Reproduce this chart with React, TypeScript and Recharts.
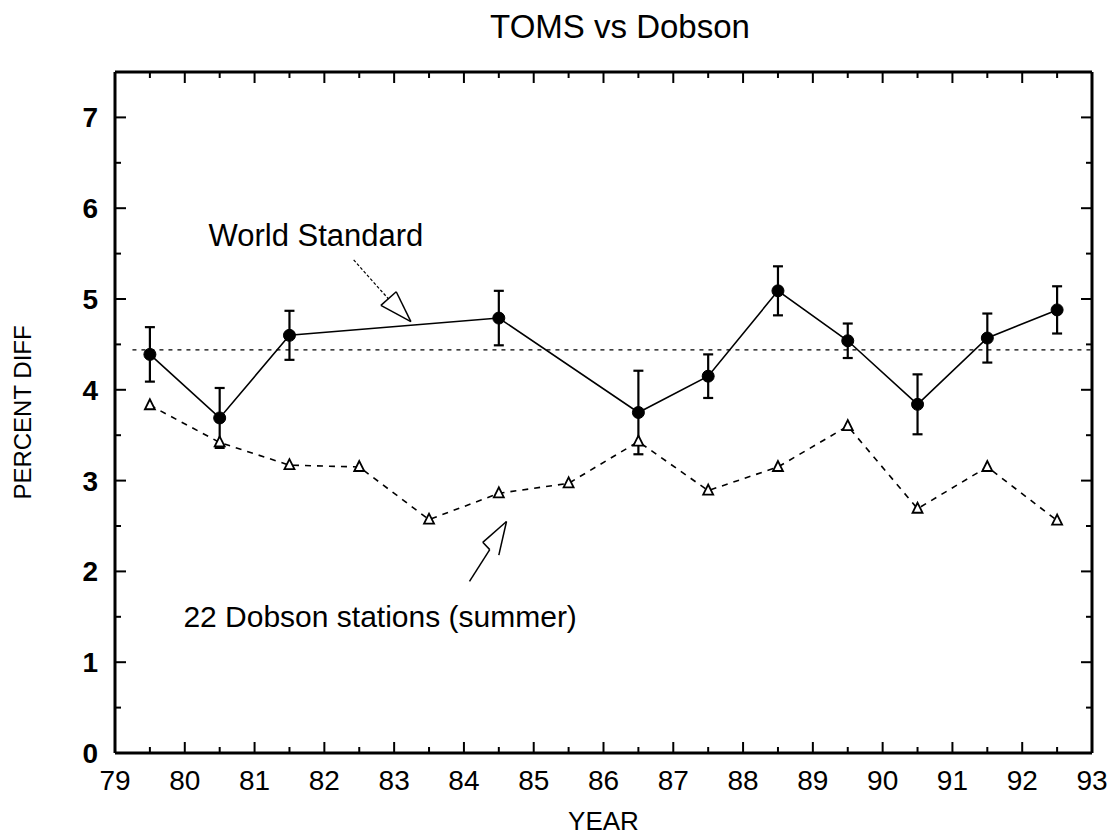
import React from 'react';
import {
  ComposedChart,
  Line,
  XAxis,
  YAxis,
  ErrorBar,
  ReferenceLine,
  ReferenceDot,
  Label,
} from 'recharts';

// ---- data ----
const years = [79.5, 80.5, 81.5, 82.5, 83.5, 84.5, 85.5, 86.5, 87.5, 88.5, 89.5, 90.5, 91.5, 92.5];
const worldStandard = [4.39, 3.69, 4.6, null, null, 4.79, null, 3.75, 4.15, 5.09, 4.54, 3.84, 4.57, 4.88];
const worldStandardErr = [0.3, 0.33, 0.27, null, null, 0.3, null, 0.46, 0.24, 0.27, 0.19, 0.33, 0.27, 0.26];
const dobsonStations = [3.83, 3.42, 3.17, 3.15, 2.57, 2.86, 2.97, 3.43, 2.89, 3.15, 3.6, 2.69, 3.15, 2.56];
const meanLevel = 4.44;

const xTicks = [79, 79.5, 80, 80.5, 81, 81.5, 82, 82.5, 83, 83.5, 84, 84.5, 85, 85.5, 86, 86.5, 87, 87.5, 88, 88.5, 89, 89.5, 90, 90.5, 91, 91.5, 92, 92.5, 93];
const yTicks = [0, 0.5, 1, 1.5, 2, 2.5, 3, 3.5, 4, 4.5, 5, 5.5, 6, 6.5, 7, 7.5];

// annotation paths (data coordinates)
const wsArrowLine = [{ x: 82.42, y: 5.43 }, { x: 82.92, y: 5.0 }];
const wsArrowHead = [{ x: 82.81, y: 4.93 }, { x: 83.24, y: 4.75 }, { x: 83.03, y: 5.08 }, { x: 82.81, y: 4.93 }];
const dobArrow = [
  { x: 84.08, y: 1.89 },
  { x: 84.37, y: 2.24 },
  { x: 84.27, y: 2.32 },
  { x: 84.61, y: 2.55 },
  { x: 84.5, y: 2.18 },
];

const data = years.map((year, i) => ({
  year,
  ws: worldStandard[i],
  wsErr: worldStandardErr[i],
  dob: dobsonStations[i],
}));

const FONT = '"Liberation Sans", Arial, Helvetica, sans-serif';

const isMajor = (v: number) => Math.abs(v - Math.round(v)) < 1e-6;

const BottomTick = (props: any) => {
  const { x, y, payload } = props;
  const v = payload.value;
  const major = isMajor(v);
  return (
    <g>
      <line x1={x} y1={y} x2={x} y2={y - (major ? 11 : 6)} stroke="#000" strokeWidth={2} />
      {major && (
        <text x={x} y={y + 37} textAnchor="middle" fontSize={28} fontFamily={FONT} fill="#000">
          {v}
        </text>
      )}
    </g>
  );
};

const TopTick = (props: any) => {
  const { x, y, payload } = props;
  const major = isMajor(payload.value);
  return <line x1={x} y1={y} x2={x} y2={y + (major ? 11 : 6)} stroke="#000" strokeWidth={2} />;
};

const LeftTick = (props: any) => {
  const { x, y, payload } = props;
  const v = payload.value;
  const major = isMajor(v);
  return (
    <g>
      <line x1={x} y1={y} x2={x + (major ? 11 : 6)} y2={y} stroke="#000" strokeWidth={2} />
      {major && (
        <text x={x - 17} y={y} dy="0.36em" textAnchor="end" fontSize={28} fontWeight="bold" fontFamily={FONT} fill="#000">
          {v}
        </text>
      )}
    </g>
  );
};

const RightTick = (props: any) => {
  const { x, y, payload } = props;
  const major = isMajor(payload.value);
  return <line x1={x} y1={y} x2={x - (major ? 11 : 6)} y2={y} stroke="#000" strokeWidth={2} />;
};

const Triangle = (props: any) => {
  const { cx, cy } = props;
  if (cx == null || cy == null) return null;
  return (
    <path
      d={`M${cx},${cy - 6} L${cx - 5},${cy + 4} L${cx + 5},${cy + 4} Z`}
      fill="#fff"
      stroke="#000"
      strokeWidth={1.8}
    />
  );
};

const segs = (pts: { x: number; y: number }[]) =>
  pts.slice(1).map((p, i) => [pts[i], p] as any);

export default function App() {
  return (
    <div style={{ position: 'absolute', left: 0, top: 0, width: 1112, height: 840, background: '#fff' }}>
      <div
        style={{
          position: 'absolute',
          left: 0,
          width: 1240,
          top: 8,
          textAlign: 'center',
          fontFamily: FONT,
          fontSize: 33,
          color: '#000',
        }}
      >
        TOMS vs Dobson
      </div>
      <ComposedChart
        width={1112}
        height={840}
        data={data}
        margin={{ top: 70, right: 0, bottom: 0, left: 0 }}
        style={{ position: 'absolute', left: 0, top: 0 }}
      >
        <XAxis
          dataKey="year"
          type="number"
          domain={[79, 93]}
          ticks={xTicks}
          interval={0}
          height={87}
          tickSize={0}
          tickMargin={0}
          tickLine={false}
          tick={<BottomTick />}
          axisLine={{ stroke: '#000', strokeWidth: 3 }}
          allowDataOverflow
        >
          <Label
            value="YEAR"
            position="insideBottom"
            offset={10}
            style={{ fontSize: 26, fontFamily: FONT, fill: '#000' }}
          />
        </XAxis>
        <XAxis
          xAxisId="top"
          dataKey="year"
          type="number"
          orientation="top"
          domain={[79, 93]}
          ticks={xTicks}
          interval={0}
          height={2}
          tickSize={0}
          tickMargin={0}
          tickLine={false}
          tick={<TopTick />}
          axisLine={{ stroke: '#000', strokeWidth: 3 }}
          allowDataOverflow
        />
        <YAxis
          type="number"
          domain={[0, 7.5]}
          ticks={yTicks}
          interval={0}
          width={115}
          tickSize={0}
          tickMargin={0}
          tickLine={false}
          tick={<LeftTick />}
          axisLine={{ stroke: '#000', strokeWidth: 3 }}
          allowDataOverflow
        >
          <Label
            value="PERCENT DIFF"
            angle={-90}
            position="insideLeft"
            offset={22}
            style={{ fontSize: 24, fontFamily: FONT, fill: '#000', textAnchor: 'middle' }}
          />
        </YAxis>
        <YAxis
          yAxisId="right"
          orientation="right"
          type="number"
          domain={[0, 7.5]}
          ticks={yTicks}
          interval={0}
          width={20}
          tickSize={0}
          tickMargin={0}
          tickLine={false}
          tick={<RightTick />}
          axisLine={{ stroke: '#000', strokeWidth: 3 }}
          allowDataOverflow
        />

        <ReferenceLine
          segment={[{ x: 79.25, y: meanLevel }, { x: 93, y: meanLevel }]}
          stroke="#000"
          strokeWidth={1.2}
          strokeDasharray="4 5"
        />

        <Line
          dataKey="dob"
          stroke="#000"
          strokeWidth={1.6}
          strokeDasharray="6 6"
          dot={<Triangle />}
          activeDot={false}
          isAnimationActive={false}
        />
        <Line
          dataKey="ws"
          stroke="#000"
          strokeWidth={1.6}
          connectNulls
          dot={{ r: 6, fill: '#000', stroke: '#000', strokeWidth: 1 }}
          activeDot={false}
          isAnimationActive={false}
        >
          <ErrorBar dataKey="wsErr" direction="y" width={5} stroke="#000" strokeWidth={2.2} />
        </Line>

        {segs(wsArrowLine).map((s, i) => (
          <ReferenceLine key={`wa${i}`} segment={s} stroke="#000" strokeWidth={1.2} strokeDasharray="3 2" ifOverflow="visible" />
        ))}
        {segs(wsArrowHead).map((s, i) => (
          <ReferenceLine key={`wh${i}`} segment={s} stroke="#000" strokeWidth={1.5} ifOverflow="visible" />
        ))}
        {segs(dobArrow).map((s, i) => (
          <ReferenceLine key={`da${i}`} segment={s} stroke="#000" strokeWidth={1.5} ifOverflow="visible" />
        ))}

        <ReferenceDot
          x={80.34}
          y={5.7}
          r={0}
          fill="none"
          stroke="none"
          ifOverflow="visible"
          label={{ value: 'World Standard', position: 'right', offset: 0, fontSize: 31, fontFamily: FONT, fill: '#000' }}
        />
        <ReferenceDot
          x={79.98}
          y={1.51}
          r={0}
          fill="none"
          stroke="none"
          ifOverflow="visible"
          label={{ value: '22 Dobson stations (summer)', position: 'right', offset: 0, fontSize: 30, fontFamily: FONT, fill: '#000' }}
        />
      </ComposedChart>
    </div>
  );
}
